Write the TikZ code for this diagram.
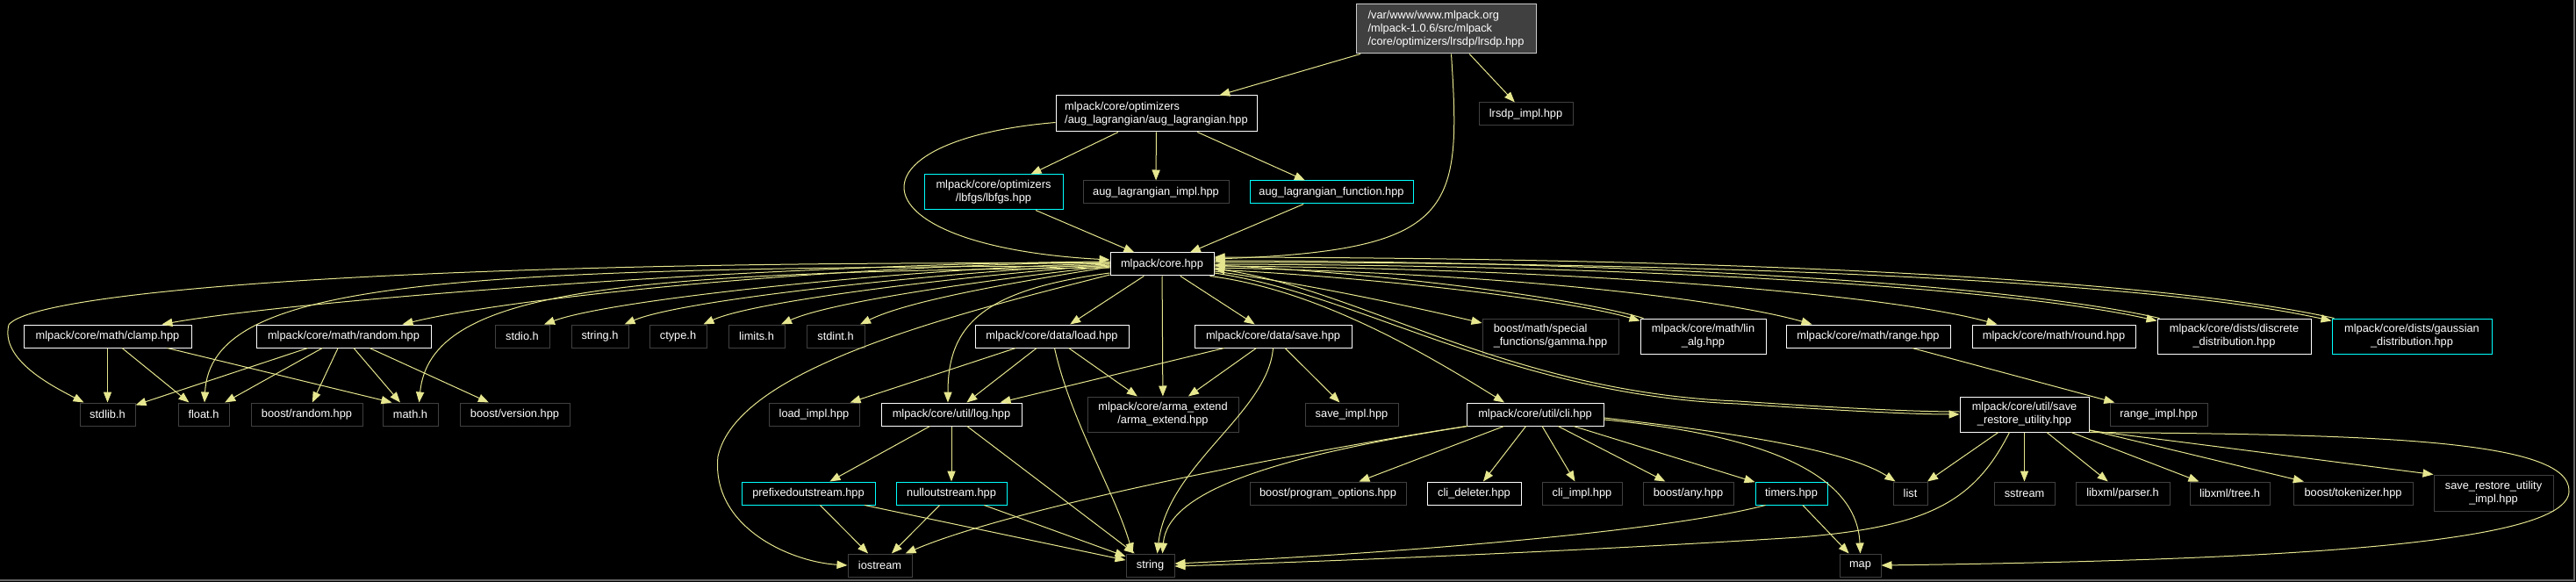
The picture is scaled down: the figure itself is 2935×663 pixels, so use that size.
\documentclass[tikz,border=0pt]{standalone}
\usepackage{fontspec}
\setmainfont{Liberation Sans}
\usetikzlibrary{calc,arrows.meta}
\definecolor{incl}{HTML}{E6E68F}
\definecolor{extgray}{HTML}{404040}
\definecolor{cutcol}{HTML}{00FFFF}
\tikzset{
  file/.style={
    draw=white,
    fill=black,
    text=white,
    line width=0.5pt,
    inner sep=1.5pt,
    minimum height=13pt,
    font=\fontsize{6.4}{7.5}\selectfont
  },
  extfile/.style={file, draw=extgray},
  cutfile/.style={file, draw=cutcol},
  rootfile/.style={file, fill=extgray, draw=white!80!black},
  edge/.style={
    draw=incl,
    line width=0.5pt,
    -{Triangle[length=6pt,width=4.6pt]}
  }
}

\begin{document}
\begin{tikzpicture}[x=0.5pt,y=-0.5pt]
  \fill[black] (0,0) rectangle (2935,663);
  \useasboundingbox (0,0) rectangle (2935,663);
  \draw[extgray!80!white, line width=1pt] (0,661) -- (2933,661) -- (2933,0);
  % top part
  \node[rootfile, align=left, minimum width=102.5pt, minimum height=28pt] (root) at (1647.5,33) {/var/www/www.mlpack.org\\/mlpack-1.0.6/src/mlpack\\/core/optimizers/lrsdp/lrsdp.hpp};
  \node[file, align=left, minimum width=114.5pt, minimum height=20.5pt] (auglag) at (1317.5,129.5) {mlpack/core/optimizers\\/aug\_lagrangian/aug\_lagrangian.hpp};
  \node[extfile, minimum width=53.5pt] (lrsdpimpl) at (1738.5,130) {lrsdp\_impl.hpp};
  \node[cutfile, align=center, minimum width=79pt, minimum height=20pt] (lbfgs) at (1132,219) {mlpack/core/optimizers\\/lbfgs/lbfgs.hpp};
  \node[extfile, minimum width=83pt] (auglagimpl) at (1317,219) {aug\_lagrangian\_impl.hpp};
  \node[cutfile, minimum width=93pt] (auglagfunc) at (1517,219) {aug\_lagrangian\_function.hpp};
  \node[file, minimum width=59pt] (core) at (1324,301) {mlpack/core.hpp};
  % row under core
  \node[file, minimum width=95.5pt] (clamp) at (122.5,383) {mlpack/core/math/clamp.hpp};
  \node[file, minimum width=99.5pt] (random) at (391.5,383) {mlpack/core/math/random.hpp};
  \node[extfile, minimum width=31pt] (stdio) at (595,383) {stdio.h};
  \node[extfile, minimum width=32.5pt] (stringh) at (683.5,383) {string.h};
  \node[extfile, minimum width=32.5pt] (ctype) at (772.5,383) {ctype.h};
  \node[extfile, minimum width=32pt] (limits) at (862,383) {limits.h};
  \node[extfile, minimum width=33pt] (stdint) at (952,383) {stdint.h};
  \node[file, minimum width=87.5pt] (load) at (1198.5,383) {mlpack/core/data/load.hpp};
  \node[file, minimum width=89.5pt] (save) at (1450.5,383) {mlpack/core/data/save.hpp};
  \node[extfile, align=left, minimum width=77.5pt, minimum height=20pt] (gamma) at (1766.5,383) {boost/math/special\\\_functions/gamma.hpp};
  \node[file, align=center, minimum width=71.5pt, minimum height=20pt] (linalg) at (1940.5,383) {mlpack/core/math/lin\\\_alg.hpp};
  \node[file, minimum width=93.5pt] (range) at (2128.5,383) {mlpack/core/math/range.hpp};
  \node[file, minimum width=93pt] (round) at (2340,383) {mlpack/core/math/round.hpp};
  \node[file, align=center, minimum width=87.5pt, minimum height=20pt] (discrete) at (2545.5,383) {mlpack/core/dists/discrete\\\_distribution.hpp};
  \node[cutfile, align=center, minimum width=91pt, minimum height=20pt] (gaussian) at (2748,383) {mlpack/core/dists/gaussian\\\_distribution.hpp};
  % middle row
  \node[extfile, minimum width=31.5pt] (stdlib) at (122.5,472) {stdlib.h};
  \node[extfile, minimum width=29pt] (float) at (232,472) {float.h};
  \node[extfile, minimum width=63.5pt] (boostrandom) at (349.5,472) {boost/random.hpp};
  \node[extfile, minimum width=31.5pt] (math) at (467.5,472) {math.h};
  \node[extfile, minimum width=62.5pt] (boostversion) at (586.5,472) {boost/version.hpp};
  \node[extfile, minimum width=51.5pt] (loadimpl) at (927.5,472) {load\_impl.hpp};
  \node[file, minimum width=80pt] (log) at (1084,472) {mlpack/core/util/log.hpp};
  \node[extfile, align=center, minimum width=86pt, minimum height=20pt] (arma) at (1325,472) {mlpack/core/arma\_extend\\/arma\_extend.hpp};
  \node[extfile, minimum width=53pt] (saveimpl) at (1540,472) {save\_impl.hpp};
  \node[file, minimum width=78pt] (cli) at (1749,472) {mlpack/core/util/cli.hpp};
  \node[file, align=center, minimum width=73.5pt, minimum height=20pt] (saverestore) at (2306.5,472) {mlpack/core/util/save\\\_restore\_utility.hpp};
  \node[extfile, minimum width=55.5pt] (rangeimpl) at (2459.5,472) {range\_impl.hpp};
  % lower row
  \node[cutfile, minimum width=76pt] (prefixed) at (921,562) {prefixedoutstream.hpp};
  \node[cutfile, minimum width=63pt] (nullout) at (1084,562) {nulloutstream.hpp};
  \node[extfile, minimum width=89pt] (progopts) at (1513,562) {boost/program\_options.hpp};
  \node[file, minimum width=53.5pt] (clideleter) at (1679.5,562) {cli\_deleter.hpp};
  \node[extfile, minimum width=45.5pt] (cliimpl) at (1802.5,562) {cli\_impl.hpp};
  \node[extfile, minimum width=51.5pt] (boostany) at (1923.5,562) {boost/any.hpp};
  \node[cutfile, minimum width=41pt] (timers) at (2041,562) {timers.hpp};
  \node[extfile, minimum width=19.5pt] (list) at (2176.5,562) {list};
  \node[extfile, minimum width=34.5pt] (sstream) at (2306.5,562) {sstream};
  \node[extfile, minimum width=53.5pt] (parser) at (2418.5,562) {libxml/parser.h};
  \node[extfile, minimum width=45.5pt] (tree) at (2540.5,562) {libxml/tree.h};
  \node[extfile, minimum width=68pt] (tokenizer) at (2681,562) {boost/tokenizer.hpp};
  \node[extfile, align=center, minimum width=68pt, minimum height=20.5pt] (srimpl) at (2841,561.5) {save\_restore\_utility\\\_impl.hpp};
  % bottom row
  \node[extfile, minimum width=36.5pt] (iostream) at (1002.5,644) {iostream};
  \node[extfile, minimum width=27.5pt] (string) at (1310.5,644) {string};
  \node[extfile, minimum width=23.5pt] (map) at (2119.5,644) {map};

  % straight includes
  \foreach \a/\b in {root/auglag, root/lrsdpimpl, auglag/lbfgs, auglag/auglagimpl,
      auglag/auglagfunc, lbfgs/core, auglagfunc/core, core/load, core/arma, core/save,
      clamp/stdlib, clamp/float, random/stdlib, random/float, random/boostrandom,
      random/math, random/boostversion, load/loadimpl, load/log, load/arma, save/log,
      save/arma, save/saveimpl, log/prefixed, log/nullout, log/string,
      prefixed/iostream, prefixed/string, nullout/iostream, nullout/string,
      range/rangeimpl, cli/progopts, cli/clideleter, cli/cliimpl, cli/boostany,
      cli/timers, timers/map, saverestore/list, saverestore/sstream,
      saverestore/parser, saverestore/tree, saverestore/tokenizer}{
    \draw[edge] (\a) -- (\b);
  }
  \draw[edge] ($(clamp.south)+(68,0)$) -- ($(math.north)+(-21,0)$);

  % curved includes
  \draw[edge] ($(root.south)+(6,0)$) .. controls (1665,240) and (1660,285) .. ($(core.east)+(0,-6)$);
  \draw[edge] ($(auglag.west)+(0,10)$) .. controls (960,160) and (970,280) .. ($(core.west)+(0,-5)$);
  \draw[edge] ($(core.west)+(0,-3)$) .. controls (900,300) and (350,340) .. ($(clamp.north)+(62,0)$);
  \draw[edge] ($(core.west)+(0,-2)$) .. controls (1000,300) and (600,335) .. ($(random.north)+(67,0)$);
  \draw[edge] ($(core.west)+(0,-1)$) .. controls (1050,305) and (700,340) .. ($(stdio.north)+(25,0)$);
  \draw[edge] (core.west) .. controls (1100,308) and (780,340) .. ($(stringh.north)+(28,0)$);
  \draw[edge] ($(core.west)+(0,1)$) .. controls (1120,312) and (860,342) .. ($(ctype.north)+(29,0)$);
  \draw[edge] ($(core.west)+(0,2)$) .. controls (1150,316) and (950,342) .. ($(limits.north)+(28,0)$);
  \draw[edge] ($(core.west)+(0,3)$) .. controls (1180,318) and (1040,340) .. ($(stdint.north)+(28,0)$);
  \draw[edge] ($(core.west)+(0,-1)$) .. controls (500,296) and (40,330) .. (10,370)
    .. controls (0,410) and (60,440) .. ($(stdlib.north)+(-27,0)$);
  \draw[edge] ($(core.west)+(0,2)$) .. controls (500,305) and (240,320) .. ($(float.north)+(1,0)$);
  \draw[edge] ($(core.west)+(0,4)$) .. controls (700,310) and (490,330) .. ($(math.north)+(10,0)$);
  \draw[edge] ($(core.west)+(0,10)$) .. controls (1120,330) and (1080,370) .. ($(log.north)+(-4,0)$);
  \draw[edge] ($(core.west)+(0,12)$) .. controls (1080,360) and (840,420) .. (818,520)
    .. controls (810,600) and (900,640) .. (iostream.west);
  \draw[edge] ($(load.south)+(3,0)$) .. controls (1220,480) and (1270,560) .. ($(string.north)+(-20,0)$);
  \draw[edge] (save.south) .. controls (1445,470) and (1330,530) .. ($(string.north)+(8,0)$);
  \draw[edge] ($(core.south east)+(-5,0)$) .. controls (1500,330) and (1620,400) .. ($(cli.north)+(-35,0)$);
  \draw[edge] ($(core.east)+(0,8)$) .. controls (1500,325) and (1620,352) .. ($(gamma.west)+(0,-15)$);
  \draw[edge] ($(core.east)+(0,6)$) .. controls (1600,318) and (1800,345) .. ($(linalg.north west)+(0,3)$);
  \draw[edge] ($(linalg.north west)+(4,0)$) .. controls (1800,341) and (1600,313) .. ($(core.east)+(0,1)$);
  \draw[edge] ($(core.east)+(0,4)$) .. controls (1750,312) and (1980,345) .. ($(range.north west)+(30,0)$);
  \draw[edge] ($(core.east)+(0,2)$) .. controls (1800,306) and (2150,335) .. ($(round.north west)+(29,0)$);
  \draw[edge] (core.east) .. controls (1900,302) and (2300,330) .. ($(discrete.north west)+(0,3)$);
  \draw[edge] ($(discrete.north west)+(3,0)$) .. controls (2300,326) and (1900,298) .. ($(core.east)+(0,-4)$);
  \draw[edge] ($(core.east)+(0,-2)$) .. controls (1950,298) and (2450,320) .. ($(gaussian.north west)+(0,3)$);
  \draw[edge] ($(gaussian.north west)+(3,0)$) .. controls (2450,316) and (1950,294) .. ($(core.east)+(0,-8)$);
  \draw[edge] ($(core.east)+(0,10)$) .. controls (1550,335) and (1720,450) .. (1980,460)
    .. controls (2100,468) and (2180,472) .. (saverestore.west);
  \draw[edge] ($(saverestore.west)+(0,-3)$) .. controls (2180,469) and (2100,465) .. (1980,457)
    .. controls (1720,447) and (1550,330) .. ($(core.east)+(0,5)$);
  % from cli
  \draw[edge] (cli.south west) .. controls (1450,520) and (1150,580) .. ($(iostream.north east)+(-8,0)$);
  \draw[edge] ($(cli.south west)+(2,0)$) .. controls (1450,520) and (1330,560) .. ($(string.north east)+(-14,0)$);
  \draw[edge] ($(cli.east)+(0,4)$) .. controls (1950,490) and (2100,510) .. ($(list.north west)+(3,0)$);
  \draw[edge] ($(cli.east)+(0,6)$) .. controls (1950,490) and (2115,520) .. (map.north);
  \draw[edge] ($(timers.south west)+(12,0)$) .. controls (1900,605) and (1600,630) .. ($(string.east)+(0,-2)$);
  % from save_restore_utility
  \draw[edge] ($(saverestore.south)+(-17,0)$) .. controls (2250,570) and (2200,600) .. (2050,612)
    .. controls (1800,628) and (1500,640) .. ($(string.east)+(0,1)$);
  \draw[edge] ($(saverestore.south east)+(0,-2)$) .. controls (2500,505) and (2650,525) .. (srimpl.north west);
  \draw[edge] (saverestore.south east) .. controls (2700,495) and (2930,500) .. (2927,560)
    .. controls (2925,620) and (2600,638) .. (map.east);
\end{tikzpicture}
\end{document}
